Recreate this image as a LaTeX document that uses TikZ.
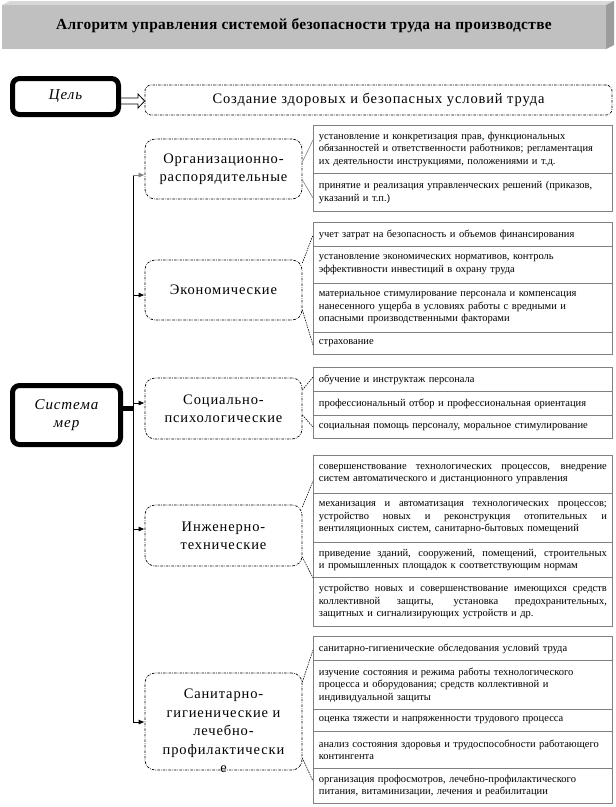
\documentclass[tikz,border=0pt]{standalone}
\usepackage{fontspec}
\setmainfont{Liberation Serif}
\newfontfamily\catfont[LetterSpace=6]{Liberation Serif}
\newfontfamily\headfont[LetterSpace=2]{Liberation Serif}
\usetikzlibrary{arrows.meta}
\definecolor{barfront}{HTML}{C0C0C0}
\definecolor{barside}{HTML}{9C9C9C}
\definecolor{bartop}{HTML}{D8D8D8}
\newcommand{\fullline}[1]{\makebox[288pt][s]{\spaceskip=.3333em plus 1fil\relax #1}\\}

\begin{document}
\begin{tikzpicture}[x=1pt,y=-1pt,
  catbox/.style={draw,line width=0.7pt,rounded corners=10pt,dash pattern=on 2.5pt off 1.2pt on 0.6pt off 1.2pt,minimum width=157pt,align=center,font=\catfont\fontsize{14.5}{18}\selectfont},
  boldbox/.style={draw,line width=5pt,rounded corners=7pt,align=center,font=\catfont\itshape\fontsize{15}{18}\selectfont},
  row/.style={draw=gray,line width=0.8pt,anchor=north west,text width=288pt,inner xsep=5.5pt,inner ysep=0pt,align=left,font=\fontsize{10.5}{12.5}\selectfont},
  callout/.style={line width=0.6pt,dash pattern=on 1.5pt off 1pt},
  arr/.style={line width=0.8pt,-{Latex[length=6pt,width=5pt]}}]
  \useasboundingbox (0,0) rectangle (616,807);
  % title bar
  \fill[bartop] (2,5) -- (10,1) -- (614,1) -- (606,5) -- cycle;
  \fill[barside] (606,5) -- (614,1) -- (614,45) -- (606,49) -- cycle;
  \fill[barfront] (2,5) rectangle (606,49);
  \node[font=\headfont\bfseries\fontsize{15.4}{18}\selectfont] (title) at (304,26)
    {Алгоритм управления системой безопасности труда на производстве};

  % goal
  \node[boldbox,minimum width=106pt,minimum height=36pt] (aim) at (65.5,96.5) {Цель};
  \node[catbox,rounded corners=6pt,minimum width=467pt,minimum height=30pt] (goal) at (378.5,100)
    {Создание здоровых и безопасных условий труда};
  \draw[line width=0.8pt] (aim.east |- 0,98) -- (138,98) -- (138,94) -- (goal.west |- 0,101)
    -- (138,108) -- (138,104) -- (aim.east |- 0,104);

  % system of measures
  \node[boldbox,minimum width=108pt,minimum height=59pt] (sys) at (66.5,415) {Система\\мер};
  \coordinate (join) at (133,408);
  \draw[line width=5pt] (sys.east |- join) -- (join);

  \node[catbox,minimum height=60pt] (org) at (223.5,169) {Организационно-\\распорядительные};
  \node[catbox,minimum height=60pt] (eco) at (223.5,290) {Экономические};
  \node[catbox,minimum height=61pt] (soc) at (223.5,408.5) {Социально-\\психологические};
  \node[catbox,minimum height=61pt] (eng) at (223.5,535.5) {Инженерно-\\технические};
  \node[catbox,minimum height=97pt] (san) at (223.5,721.5) {};
  \node[align=center,font=\catfont\fontsize{14.5}{18.5}\selectfont] (santxt) at (223.5,731)
    {Санитарно-\\гигиенические и\\лечебно-\\профилактически\\е};

  \foreach \n/\y in {org/175,eco/295,soc/403,eng/529,san/722}
    \coordinate (t\n) at (133,\y);
  \draw[line width=0.8pt] (torg) -- (tsan);
  \draw[arr,gray] (torg) -- (org.west |- torg);
  \foreach \n in {eco,soc,eng,san}
    \draw[arr] (t\n) -- (\n.west |- t\n);

  % measures
  \node[row,minimum height=48pt] (o1) at (313,125) {установление и конкретизация прав, функциональных\\ обязанностей и ответственности работников; регламентация\\ их деятельности инструкциями, положениями и т.д.};
  \node[row,minimum height=38pt] (o2) at (313,173) {принятие и реализация управленческих решений (приказов,\\ указаний и т.п.)};

  \node[row,minimum height=24pt] (e1) at (313,222) {учет затрат на безопасность и объемов финансирования};
  \node[row,minimum height=37pt] (e2) at (313,246) {установление экономических нормативов, контроль\\ эффективности инвестиций в охрану труда};
  \node[row,minimum height=49pt] (e3) at (313,283) {материальное стимулирование персонала и компенсация\\ нанесенного ущерба в условиях работы с вредными и\\ опасными производственными факторами};
  \node[row,minimum height=22pt] (e4) at (313,332) {страхование};

  \node[row,minimum height=24pt] (s1) at (313,367) {обучение и инструктаж персонала};
  \node[row,minimum height=24pt] (s2) at (313,391) {профессиональный отбор и профессиональная ориентация};
  \node[row,minimum height=23pt] (s3) at (313,415) {социальная помощь персоналу, моральное стимулирование};

  \node[row,minimum height=38pt] (i1) at (313,455) {\fullline{совершенствование технологических процессов, внедрение} систем автоматического и дистанционного управления};
  \node[row,minimum height=49pt] (i2) at (313,493) {\fullline{механизация и автоматизация технологических процессов;}\fullline{устройство новых и реконструкция отопительных и} вентиляционных систем, санитарно-бытовых помещений};
  \node[row,minimum height=35pt] (i3) at (313,542) {\fullline{приведение зданий, сооружений, помещений, строительных} и промышленных площадок к соответствующим нормам};
  \node[row,minimum height=49pt] (i4) at (313,577) {\fullline{устройство новых и совершенствование имеющихся средств}\fullline{коллективной защиты, установка предохранительных,} защитных и сигнализирующих устройств и др.};

  \node[row,minimum height=24pt] (g1) at (313,636) {санитарно-гигиенические обследования условий труда};
  \node[row,minimum height=49pt] (g2) at (313,660) {изучение состояния и режима работы технологического\\ процесса и оборудования; средств коллективной и\\ индивидуальной защиты};
  \node[row,minimum height=22pt] (g3) at (313,709) {оценка тяжести и напряженности трудового процесса};
  \node[row,minimum height=37pt] (g4) at (313,731) {анализ состояния здоровья и трудоспособности работающего\\ контингента};
  \node[row,minimum height=35pt] (g5) at (313,768) {организация профосмотров, лечебно-профилактического\\ питания, витаминизации, лечения и реабилитации};

  % callout lines
  \draw[gray,line width=0.6pt] (org.east |- 0,162) -- (o1.west |- 0,140) (org.east |- 0,180) -- (o2.west |- 0,198);
  \draw[callout] (eco.east |- 0,263) -- (e1.west |- 0,235) (eco.east |- 0,310) -- (e4.west |- 0,345);
  \draw[callout] (soc.east |- 0,390) -- (s1.west |- 0,377) (soc.east |- 0,415) -- (s3.west |- 0,427);
  \draw[callout] (eng.east |- 0,507) -- (i1.west |- 0,481) (eng.east |- 0,557) -- (i4.west |- 0,578);
  \draw[callout] (san.east |- 0,682) -- (g1.west |- 0,650) (san.east |- 0,758) -- (g5.west |- 0,781);
\end{tikzpicture}
\end{document}
